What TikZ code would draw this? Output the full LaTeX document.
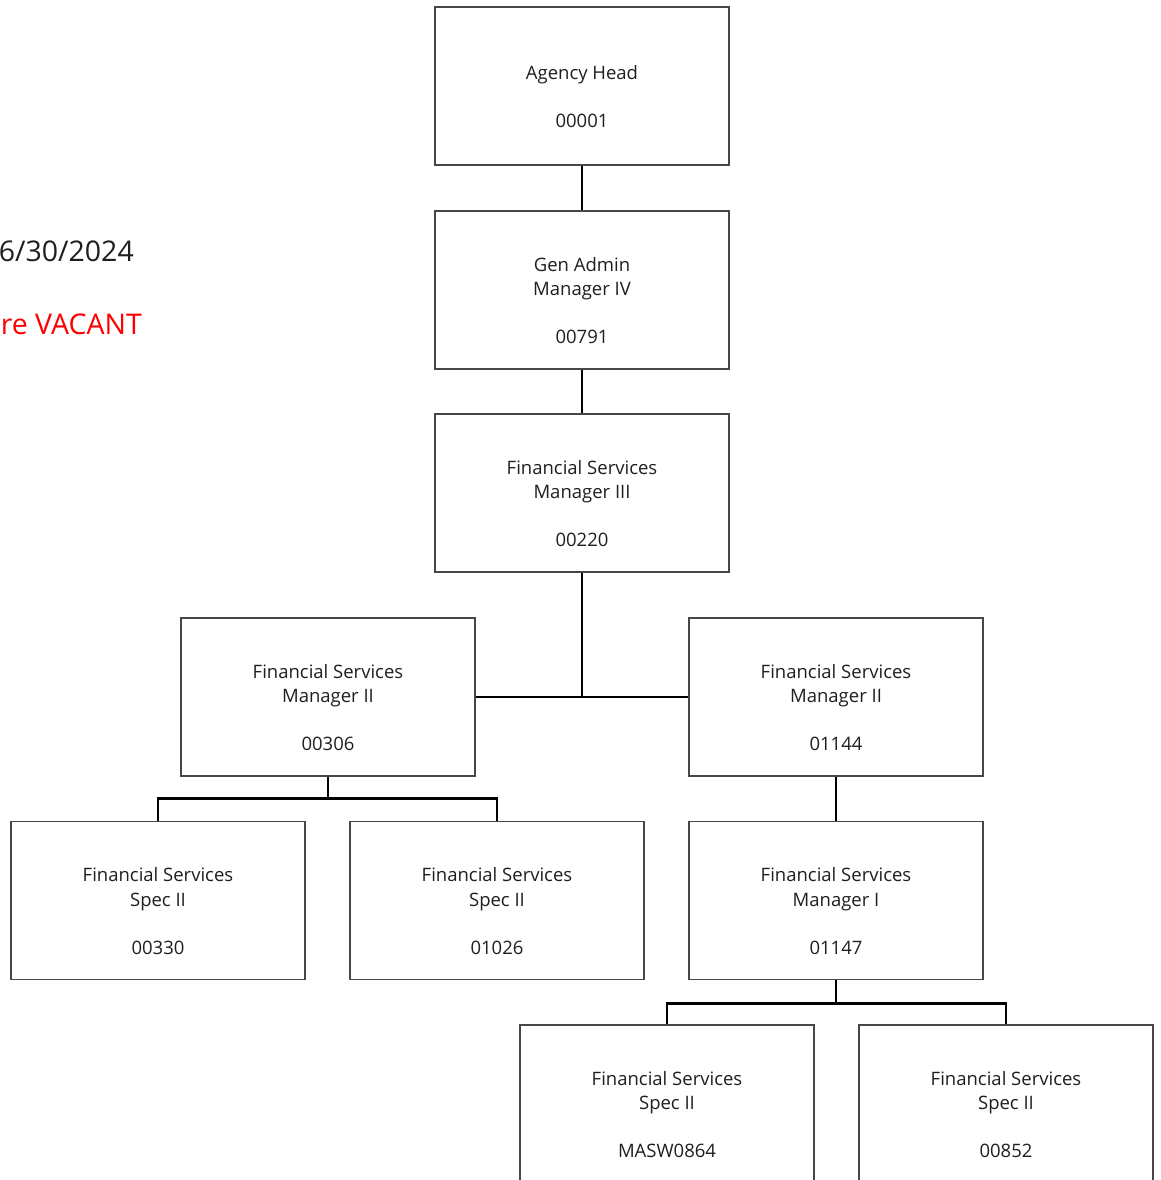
\documentclass[tikz,border=0pt]{standalone}
\usepackage{fontspec}
\setmainfont{Open Sans}
\begin{document}
\begin{tikzpicture}[x=1pt,y=-1pt,
  posbox/.style={draw=black!72, fill=white, line width=1.4pt, minimum width=294pt, minimum height=158pt, inner sep=0pt},
  postext/.style={font=\fontsize{18.5}{24.5}\selectfont, text=black!88, align=center, inner sep=0pt, yshift=-10.5pt},
  link/.style={line width=2.8pt, black, line join=miter},
  note/.style={anchor=east, inner sep=0pt, font=\fontsize{28.5}{32}\selectfont},
]
\useasboundingbox (0,0) rectangle (1160,1180);

% legend text at the left edge
\node[note, text=black!88] (asof) at (134,251) {6/30/2024};
\node[note, text=red] (vacant) at (142,324) {re VACANT};

% position boxes
\node[posbox] (ah)   at (582,86)    {};
\node[posbox] (gam)  at (582,290)   {};
\node[posbox] (fm3)  at (582,493)   {};
\node[posbox] (fm2a) at (328,697)   {};
\node[posbox] (fm2b) at (836,697)   {};
\node[posbox] (sp1)  at (158,900.5) {};
\node[posbox] (sp2)  at (497,900.5) {};
\node[posbox] (fm1)  at (836,900.5) {};
\node[posbox] (sp3)  at (667,1104)  {};
\node[posbox] (sp4)  at (1006,1104) {};

% reporting lines
\draw[link] (ah.south) -- (gam.north);
\draw[link] (gam.south) -- (fm3.north);
\draw[link] (fm3.south) -- (fm3.south |- fm2a.east);
\draw[link] (fm2a.east) -- (fm2b.west);
\draw[link] (fm2a.south) -- ++(0,22) coordinate (j1) -| (sp1.north);
\draw[link] (j1) -| (sp2.north);
\draw[link] (fm2b.south) -- (fm1.north);
\draw[link] (fm1.south) -- ++(0,23) coordinate (j2) -| (sp3.north);
\draw[link] (j2) -| (sp4.north);

% box texts
\node[postext] (ah-t)   at (ah)   {Agency Head\\[23.5pt]00001};
\node[postext] (gam-t)  at (gam)  {Gen Admin\\Manager IV\\[23.5pt]00791};
\node[postext] (fm3-t)  at (fm3)  {Financial Services\\Manager III\\[23.5pt]00220};
\node[postext] (fm2a-t) at (fm2a) {Financial Services\\Manager II\\[23.5pt]00306};
\node[postext] (fm2b-t) at (fm2b) {Financial Services\\Manager II\\[23.5pt]01144};
\node[postext] (sp1-t)  at (sp1)  {Financial Services\\Spec II\\[23.5pt]00330};
\node[postext] (sp2-t)  at (sp2)  {Financial Services\\Spec II\\[23.5pt]01026};
\node[postext] (fm1-t)  at (fm1)  {Financial Services\\Manager I\\[23.5pt]01147};
\node[postext] (sp3-t)  at (sp3)  {Financial Services\\Spec II\\[23.5pt]MASW0864};
\node[postext] (sp4-t)  at (sp4)  {Financial Services\\Spec II\\[23.5pt]00852};
\end{tikzpicture}
\end{document}
